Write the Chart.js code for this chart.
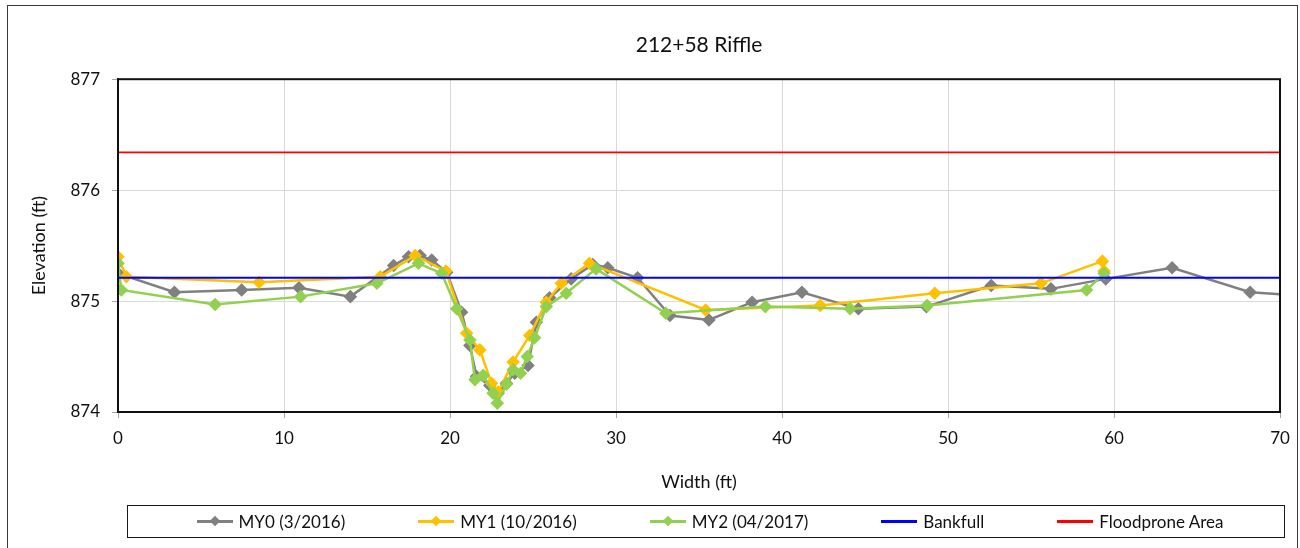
<!DOCTYPE html>
<html>
<head>
<meta charset="utf-8">
<script src="https://cdn.jsdelivr.net/npm/chart.js@4"></script>
<style>
  body { margin: 0; background: #fff; font-family: Lato, "Noto Sans", sans-serif; }
  #page { position: relative; width: 1300px; height: 548px; overflow: hidden; }
  #frame { position: absolute; left: 7px; top: 5px; width: 1289px; height: 570px; border: 1.5px solid #3a3a3a; }
  #chart { position: absolute; left: 0; top: 0; }
  #legend {
    position: absolute; left: 127px; top: 505px; width: 1158px; height: 33px;
    border: 1.5px solid #1a1a1a; display: flex; align-items: center; justify-content: center;
    gap: 73px; padding-left: 8px; box-sizing: border-box; font-size: 17px; color: #111;
  }
  .item { display: flex; align-items: center; gap: 6px; white-space: nowrap; }
  .icon { position: relative; width: 36px; height: 3px; }
  .icon i { position: absolute; left: 13px; top: -4px; width: 10px; height: 10px; transform: rotate(45deg) scale(0.75); }
</style>
</head>
<body>
<div id="page">
  <div id="frame"></div>
  <canvas id="chart" width="1300" height="548"></canvas>
  <div id="legend"></div>
</div>
<script>
const my0X = [0, 3.4, 7.45, 10.9, 14.0, 16.6, 17.5, 18.2, 18.9, 19.8, 20.7, 21.2, 21.6, 22.4, 22.9, 23.4, 23.9, 24.7, 25.2, 26.0, 27.3, 28.6, 29.5, 31.3, 33.25, 35.6, 38.2, 41.2, 44.6, 48.7, 52.6, 56.2, 59.5, 63.5, 68.2, 72];
const my0Y = [875.25, 875.08, 875.10, 875.12, 875.04, 875.32, 875.40, 875.41, 875.37, 875.26, 874.90, 874.60, 874.32, 874.24, 874.17, 874.26, 874.35, 874.42, 874.81, 875.03, 875.20, 875.33, 875.30, 875.21, 874.87, 874.83, 874.99, 875.08, 874.93, 874.95, 875.14, 875.11, 875.20, 875.30, 875.08, 875.04];

const my1X = [0, 0.5, 8.5, 15.8, 17.9, 19.75, 21.0, 21.8, 22.5, 22.9, 23.8, 24.8, 25.8, 26.7, 28.4, 35.4, 42.3, 49.2, 55.6, 59.3, 59.4];
const my1Y = [875.40, 875.22, 875.17, 875.22, 875.41, 875.27, 874.71, 874.56, 874.26, 874.18, 874.45, 874.69, 874.99, 875.16, 875.34, 874.92, 874.96, 875.07, 875.16, 875.36, 875.27];

const my2X = [0, 0.2, 5.85, 11.0, 15.6, 18.1, 19.5, 20.4, 21.2, 21.5, 22.0, 22.6, 22.85, 23.4, 23.8, 24.25, 24.65, 25.1, 25.8, 27.0, 28.8, 33.0, 39.0, 44.1, 48.75, 58.35, 59.4];
const my2Y = [875.34, 875.10, 874.97, 875.04, 875.16, 875.34, 875.25, 874.93, 874.65, 874.29, 874.33, 874.17, 874.08, 874.25, 874.38, 874.35, 874.50, 874.67, 874.95, 875.07, 875.29, 874.89, 874.95, 874.93, 874.96, 875.10, 875.25];

const bankfullX = [0, 70];
const bankfullY = [875.21, 875.21];
const floodX = [0, 70];
const floodY = [876.34, 876.34];

const xTicks = [0, 10, 20, 30, 40, 50, 60, 70];
const yTicks = [874, 875, 876, 877];

const series = [
  { label: "MY0 (3/2016)", xs: my0X, ys: my0Y, color: "#808080", marker: true, order: 4 },
  { label: "MY1 (10/2016)", xs: my1X, ys: my1Y, color: "#ffc000", marker: true, order: 3 },
  { label: "MY2 (04/2017)", xs: my2X, ys: my2Y, color: "#92d050", marker: true, order: 2 },
  { label: "Bankfull", xs: bankfullX, ys: bankfullY, color: "#0000ff", marker: false, order: 1 },
  { label: "Floodprone Area", xs: floodX, ys: floodY, color: "#ff0000", marker: false, order: 0 }
];

function toPoints(xs, ys) {
  return xs.map((x, i) => ({ x, y: ys[i] }));
}

const tickFont = { family: "Lato", size: 17 };

// black frame round the plot area, like the Excel export
const plotFrame = {
  id: "plotFrame",
  afterDatasetsDraw(chart) {
    const { ctx, chartArea: a } = chart;
    ctx.save();
    ctx.strokeStyle = "#111";
    ctx.lineWidth = 2;
    ctx.strokeRect(a.left, a.top, a.right - a.left, a.bottom - a.top);
    ctx.restore();
  }
};

new Chart(document.getElementById("chart"), {
  type: "scatter",
  data: {
    datasets: series.map((s) => ({
      label: s.label,
      data: toPoints(s.xs, s.ys),
      showLine: true,
      borderColor: s.color,
      backgroundColor: s.color,
      borderWidth: s.marker ? 2.5 : 1.8,
      pointStyle: "rectRot",
      pointRadius: s.marker ? 5 : 0,
      pointHoverRadius: s.marker ? 5 : 0,
      tension: 0,
      order: s.order
    }))
  },
  options: {
    responsive: false,
    animation: false,
    layout: { padding: { left: 0, right: 20, top: 0, bottom: 54 } },
    plugins: {
      legend: { display: false },
      tooltip: { enabled: false },
      title: {
        display: true,
        fullSize: false,
        text: "212+58 Riffle",
        color: "#111",
        font: { family: "Lato", size: 21, weight: "normal" },
        padding: { top: 33, bottom: 21 }
      }
    },
    scales: {
      x: {
        type: "linear",
        min: 0,
        max: 70,
        afterBuildTicks: (scale) => { scale.ticks = xTicks.map((v) => ({ value: v })); },
        afterFit: (scale) => { scale.height = 82; },
        ticks: { color: "#111", font: tickFont, padding: 10 },
        grid: { color: "#d9d9d9", lineWidth: 1, tickLength: 6, tickColor: "#a6a6a6" },
        border: { color: "#111", width: 2 },
        title: { display: true, text: "Width (ft)", color: "#111", font: { family: "Lato", size: 18 }, padding: { top: 4, bottom: 1 } }
      },
      y: {
        type: "linear",
        min: 874,
        max: 877,
        afterBuildTicks: (scale) => { scale.ticks = yTicks.map((v) => ({ value: v })); },
        afterFit: (scale) => { scale.width = 118; },
        ticks: { color: "#111", font: tickFont, padding: 12 },
        grid: { color: "#d9d9d9", lineWidth: 1, tickLength: 6, tickColor: "#a6a6a6" },
        border: { color: "#111", width: 2 },
        title: { display: true, text: "Elevation (ft)", color: "#111", font: { family: "Lato", size: 18 }, padding: { top: 28, bottom: 4 } }
      }
    }
  },
  plugins: [plotFrame]
});

// legend drawn as html so the spacing can follow the original
const legendHost = document.getElementById("legend");
legendHost.innerHTML = series.map((s) => `<div class="item">
    <span class="icon" style="background:${s.color}">${s.marker ? `<i style="background:${s.color}"></i>` : ""}</span>
    <span>${s.label}</span>
  </div>`).join("");
</script>
</body>
</html>
